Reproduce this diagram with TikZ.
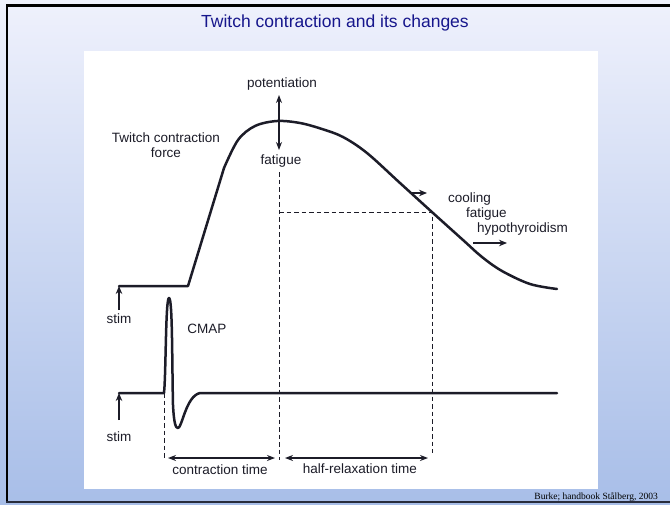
\documentclass[tikz,border=0pt]{standalone}
\usepackage{fontspec}
\setmainfont{Liberation Sans}
\newfontfamily\credfont{Liberation Serif}
\usetikzlibrary{arrows.meta}
\definecolor{ink}{RGB}{28,28,40}
\definecolor{titleblue}{RGB}{22,22,140}
\definecolor{bgtop}{RGB}{239,241,252}
\definecolor{bgmid}{RGB}{214,222,244}
\definecolor{bgbot}{RGB}{168,190,232}
\definecolor{framedark}{RGB}{40,44,60}
\begin{document}
\begin{tikzpicture}[x=1pt,y=-1pt,
  lbl/.style={inner sep=0pt, text=ink, font=\fontsize{13.5}{16}\selectfont, anchor=base},
  lbll/.style={lbl, anchor=base west},
  curve/.style={draw=ink, line width=2.5pt, line join=round, line cap=round},
  guide/.style={draw=ink, line width=0.9pt, dash pattern=on 4.5pt off 3pt},
  arr/.style={draw=ink, line width=1.2pt, -{Stealth[length=8pt,width=6.5pt]}},
  darr/.style={draw=ink, line width=1.2pt, {Stealth[length=8pt,width=6pt]}-{Stealth[length=8pt,width=6pt]}}]
\useasboundingbox (0,0) rectangle (670,504);
% slide background
\shade[top color=bgtop, middle color=bgmid, bottom color=bgbot] (0,0) rectangle (670,504);
\draw[line width=2.6pt, black] (6,5.5) -- (670,5.5);
\draw[line width=2.4pt, black] (7,4) -- (7,503);
\draw[line width=1.6pt, framedark] (6,502) -- (670,502);
% picture area
\fill[white] (84,51) rectangle (598,489);
% title
\node[inner sep=0pt, anchor=base, text=titleblue, font=\fontsize{17.5}{20}\selectfont] (title) at (335,27) {Twitch contraction and its changes};
% labels
\node[lbl] (pot) at (282,87) {potentiation};
\node[lbl] (fat1) at (281,164) {fatigue};
\node[lbl, align=center, font=\fontsize{13.5}{15}\selectfont] (force) at (166,157) {Twitch contraction\\force};
\node[lbll] (cool) at (448,202) {cooling};
\node[lbll] (fat2) at (466,217) {fatigue};
\node[lbll] (hypo) at (477,232) {hypothyroidism};
\node[lbl] (stim1) at (119,323) {stim};
\node[lbl] (cmap) at (207,333) {CMAP};
\node[lbl] (stim2) at (119,441) {stim};
\node[lbl] (ct) at (220,474) {contraction time};
\node[lbl] (hrt) at (360,473) {half-relaxation time};
\node[inner sep=0pt, anchor=base east, font=\credfont\fontsize{9.5}{11}\selectfont, text=black] (cred) at (658,499) {Burke; handbook Stålberg, 2003};
% coordinates
\coordinate (f0) at (119,286);
\coordinate (c0) at (119,393);
\coordinate (s1) at (119,310);
\coordinate (s2) at (119,420);
\coordinate (pu) at (279,95);
\coordinate (pd) at (279,150);
\coordinate (ga) at (279,172);
\coordinate (gb) at (279,460);
\coordinate (gc) at (279,212);
\coordinate (gd) at (432,212);
\coordinate (ge) at (432,453);
\coordinate (gf) at (164,393);
\coordinate (gg) at (164,460);
\coordinate (a1) at (168,458);
\coordinate (a2) at (275,458);
\coordinate (a3) at (285,458);
\coordinate (a4) at (428,458);
\coordinate (r1) at (410,193);
\coordinate (r2) at (427,193);
\coordinate (r3) at (473,243);
\coordinate (r4) at (507,243);
% dashed guides
\draw[guide] (ga) -- (gb);
\draw[guide] (gc) -- (gd) -- (ge);
\draw[guide] (gf) -- (gg);
% force curve
\draw[curve] (f0) -- (188,286) -- plot[smooth, tension=0.55] coordinates {(224,168) (238,140) (255,126) (277,121) (300,123) (322,129) (343,137) (367,153) (400,183) (433,213) (463,240) (482,257) (502,271) (530,284) (557,289)};
% CMAP
\draw[curve] (c0) -- (164,393) .. controls (166,375) and (165.5,298) .. (169,298) .. controls (172.5,298) and (172,360) .. (173,405) .. controls (174,425) and (176,428) .. (178,428) .. controls (182,428) and (186,396) .. (200,393) -- (557,393);
% arrows
\draw[arr] (s1) -- (f0);
\draw[arr] (s2) -- (c0);
\draw[darr] (pu) -- (pd);
\draw[darr] (a1) -- (a2);
\draw[darr] (a3) -- (a4);
\draw[arr] (r1) -- (r2);
\draw[arr] (r3) -- (r4);
\end{tikzpicture}
\end{document}
